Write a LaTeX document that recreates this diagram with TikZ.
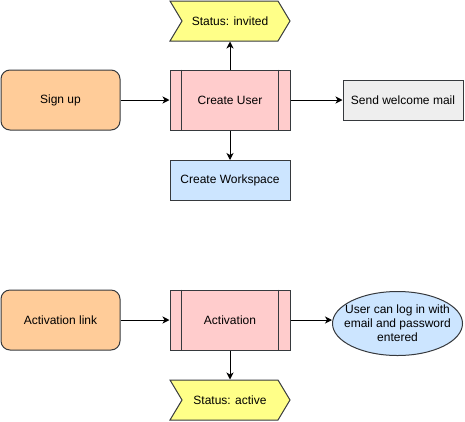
\documentclass[tikz,border=0pt]{standalone}
\usepackage{fontspec}
\setmainfont{Liberation Sans}
\usetikzlibrary{shapes.geometric,shapes.symbols,arrows.meta}
\definecolor{cstroke}{HTML}{36393D}
\definecolor{corange}{HTML}{FFCC99}
\definecolor{cpink}{HTML}{FFCCCC}
\definecolor{cyellow}{HTML}{FFFF88}
\definecolor{cblue}{HTML}{CCE5FF}
\definecolor{cgrey}{HTML}{EEEEEE}
\tikzset{
  base/.style={draw=cstroke, line width=1pt, font=\fontsize{12}{14}\selectfont, inner sep=0pt, align=center},
  startbox/.style={base, rounded corners=9pt, fill=corange, minimum width=119pt, minimum height=60pt},
  procbox/.style={base, fill=cpink, minimum width=120pt, minimum height=60pt},
  plainbox/.style={base, minimum width=120pt, minimum height=40pt},
  statusbox/.style={base, fill=cyellow, signal, signal to=east, signal from=west, signal pointer angle=118, minimum width=120pt, minimum height=40pt},
  endell/.style={base, ellipse, fill=cblue, minimum width=130pt, minimum height=64pt},
  elltext/.style={font=\fontsize{12}{14}\selectfont, align=center, inner sep=0pt},
  conn/.style={draw=black, line width=1pt, -{Stealth[length=7pt,width=7pt,inset=2pt]}},
}
\newcommand{\sidebars}[1]{%
  \draw[draw=cstroke, line width=1pt] ([xshift=12pt]#1.north west) -- ([xshift=12pt]#1.south west);
  \draw[draw=cstroke, line width=1pt] ([xshift=-12pt]#1.north east) -- ([xshift=-12pt]#1.south east);}
\begin{document}
\begin{tikzpicture}[x=1pt,y=-1pt]
\useasboundingbox (0,0) rectangle (465,421);
\node[startbox] (signup) at (60.5,100) {Sign up};
\node[procbox] (create) at (230,100) {Create User};
\sidebars{create}
\node[statusbox] (invited) at (230,21) {Status: invited};
\node[plainbox, fill=cgrey] (mail) at (403,100) {Send welcome mail};
\node[plainbox, fill=cblue] (ws) at (230,180.5) {Create Workspace};
\node[startbox] (link) at (60.5,320) {Activation link};
\node[procbox] (act) at (230,320) {Activation};
\sidebars{act}
\node[statusbox] (active) at (230,400) {Status: active};
\node[endell, label={[elltext]center:User can log in with\\email and password\\entered}] (login) at (397.5,323.5) {};
\draw[conn] (signup) -- (create);
\draw[conn] (create) -- (mail);
\draw[conn] (create) -- (invited);
\draw[conn] (create) -- (ws);
\draw[conn] (link) -- (act);
\draw[conn] (act.east) -- (login.west |- act.east);
\draw[conn] (act) -- (active);
\end{tikzpicture}
\end{document}
